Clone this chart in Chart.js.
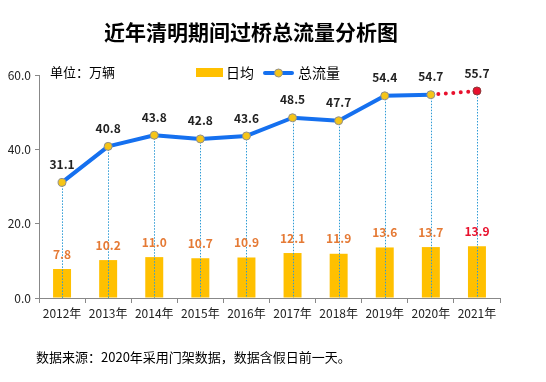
<!DOCTYPE html>
<html><head><meta charset="utf-8">
<script src="https://cdn.jsdelivr.net/npm/chart.js@4/dist/chart.umd.min.js"></script>
<style>html,body{margin:0;padding:0;background:#fff}#wrap{width:546px;height:382px}</style>
</head><body><div id="wrap"><canvas id="c" width="546" height="382"></canvas></div>
<script>
const categories = ['2012年','2013年','2014年','2015年','2016年','2017年','2018年','2019年','2020年','2021年'];
const dailyAvg = [7.8,10.2,11.0,10.7,10.9,12.1,11.9,13.6,13.7,13.9];
const totalFlow = [31.1,40.8,43.8,42.8,43.6,48.5,47.7,54.4,54.7,55.7];
const titleText = '近年清明期间过桥总流量分析图';
const unitText = '单位：万辆';
const noteText = '数据来源：2020年采用门架数据，数据含假日前一天。';
const seriesNames = ['日均','总流量'];

const FONT = '"Noto Sans CJK SC","Noto Sans",sans-serif';
const BLUE = '#1570EF', GOLD = '#FFC000', RED = '#E8112D', ORANGE = '#E57A35';
const lastIdx = totalFlow.length - 1;

const deco = {
  id: 'deco',
  afterDatasetDraw(chart, args) {
    if (args.index !== 0) return;
    const ctx = chart.ctx, meta = chart.getDatasetMeta(1), bottom = chart.chartArea.bottom;
    ctx.save();
    ctx.strokeStyle = '#2E9BD6'; ctx.lineWidth = 1; ctx.setLineDash([1.5,1.5]);
    meta.data.forEach(p => {
      ctx.beginPath(); ctx.moveTo(Math.round(p.x)+0.5, p.y); ctx.lineTo(Math.round(p.x)+0.5, bottom); ctx.stroke();
    });
    ctx.restore();
  },
  afterDatasetsDraw(chart) {
    const ctx = chart.ctx;
    ctx.save();
    ctx.textAlign = 'center'; ctx.textBaseline = 'middle';
    const bm = chart.getDatasetMeta(0), lm = chart.getDatasetMeta(1);
    ctx.font = 'bold 12px ' + FONT;
    bm.data.forEach((b,i) => {
      ctx.fillStyle = i === lastIdx ? RED : ORANGE;
      ctx.fillText(dailyAvg[i].toFixed(1), b.x, b.y - 15);
    });
    lm.data.forEach((p,i) => {
      ctx.fillStyle = i === lastIdx ? '#222' : '#222';
      ctx.fillText(totalFlow[i].toFixed(1), p.x, p.y - 18);
    });
    ctx.restore();
  },
  afterDraw(chart) {
    const ctx = chart.ctx;
    ctx.save();
    ctx.fillStyle = '#000'; ctx.textBaseline = 'middle';
    ctx.font = 'bold 21px ' + FONT; ctx.textAlign = 'center';
    ctx.fillText(titleText, 251, 32);
    ctx.textAlign = 'left';
    ctx.font = '13px ' + FONT;
    ctx.fillText(unitText, 50, 72);
    ctx.fillText(noteText, 36, 357);
    // legend
    ctx.fillStyle = GOLD; ctx.fillRect(196, 68, 27, 9);
    ctx.fillStyle = '#000'; ctx.font = '14px ' + FONT;
    ctx.fillText(seriesNames[0], 226, 73);
    ctx.strokeStyle = BLUE; ctx.lineWidth = 4; ctx.lineCap = 'round';
    ctx.beginPath(); ctx.moveTo(265, 73); ctx.lineTo(292, 73); ctx.stroke();
    ctx.beginPath(); ctx.arc(278.5, 73, 4, 0, Math.PI*2);
    ctx.fillStyle = '#F5C518'; ctx.fill(); ctx.lineWidth = 1; ctx.strokeStyle = '#8E8E8E'; ctx.stroke();
    ctx.fillStyle = '#000';
    ctx.fillText(seriesNames[1], 298, 73);
    ctx.restore();
  }
};

new Chart(document.getElementById('c'), {
  type: 'bar',
  data: {
    labels: categories,
    datasets: [
      { type: 'bar', label: seriesNames[0], data: dailyAvg, backgroundColor: GOLD, order: 1,
        categoryPercentage: 1, barPercentage: 0.39 },
      { type: 'line', label: seriesNames[1], data: totalFlow, order: 0,
        borderColor: BLUE, borderWidth: 4, borderCapStyle: 'round', borderJoinStyle: 'round',
        tension: 0, fill: false,
        pointRadius: 4, pointHoverRadius: 4,
        pointBackgroundColor: totalFlow.map((v,i) => i === lastIdx ? RED : '#F5C518'),
        pointBorderColor: totalFlow.map((v,i) => i === lastIdx ? '#8A3A3A' : '#8E8E8E'),
        pointBorderWidth: 1,
        segment: {
          borderColor: c => c.p1DataIndex === lastIdx ? RED : BLUE,
          borderDash: c => c.p1DataIndex === lastIdx ? [0, 7.5] : undefined
        }
      }
    ]
  },
  options: {
    responsive: false, animation: false, devicePixelRatio: 1,
    layout: { padding: { top: 75, right: 46, left: 0, bottom: 0 } },
    plugins: { legend: { display: false }, title: { display: false }, tooltip: { enabled: false } },
    scales: {
      x: {
        offset: true,
        grid: { offset: true, drawOnChartArea: false, tickLength: 5, color: '#888' },
        border: { color: '#888', width: 1 },
        ticks: { font: { size: 12, family: FONT }, color: '#222', padding: 3, maxRotation: 0 },
        afterFit: s => { s.height = 84; }
      },
      y: {
        min: 0, max: 60,
        grid: { drawOnChartArea: false, tickLength: 4, color: '#888' },
        border: { color: '#888', width: 1 },
        ticks: { stepSize: 20, font: { size: 12, family: FONT }, color: '#222', padding: 4,
          callback: v => v.toFixed(1) },
        afterFit: s => { s.width = 39; }
      }
    }
  },
  plugins: [deco]
});
</script></body></html>
